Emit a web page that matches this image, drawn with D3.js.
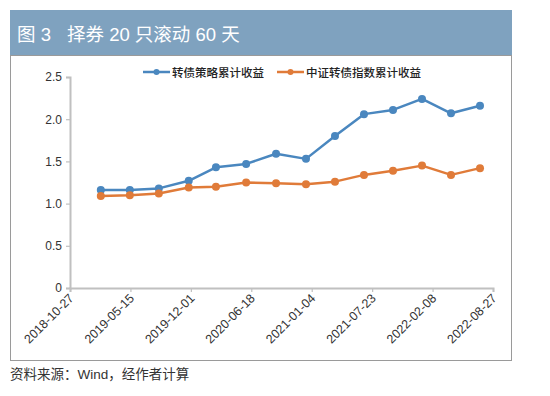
<!DOCTYPE html>
<html>
<head>
<meta charset="utf-8">
<script src="https://cdn.jsdelivr.net/npm/d3@7"></script>
<style>
  body { margin: 0; background: #fff; }
  svg { display: block; font-family: "Liberation Sans", "Noto Sans CJK SC", sans-serif; }
</style>
</head>
<body>
<div id="chart"></div>
<script>
// data
const dates = ['2019-02-06', '2019-05-13', '2019-08-17', '2019-11-24', '2020-02-22', '2020-06-01', '2020-09-08',
    '2020-12-16', '2021-03-22', '2021-06-26', '2021-09-30', '2022-01-04', '2022-04-10', '2022-07-15'];
const strategy = [1.16, 1.16, 1.18, 1.27, 1.43, 1.47, 1.59, 1.53, 1.80, 2.06, 2.11, 2.24, 2.07, 2.16];
const index = [1.09, 1.10, 1.12, 1.19, 1.20, 1.25, 1.24, 1.23, 1.26, 1.34, 1.39, 1.45, 1.34, 1.42];
const seriesNames = ['转债策略累计收益', '中证转债指数累计收益'];
const xTickLabels = ['2018-10-27', '2019-05-15', '2019-12-01', '2020-06-18', '2021-01-04', '2021-07-23', '2022-02-08', '2022-08-27'];
const yTicks = [0, 0.5, 1.0, 1.5, 2.0, 2.5];

const W = 550, H = 396;
const colors = ['#4a87bf', '#e07b39'];
const parse = d3.timeParse('%Y-%m-%d');

const svg = d3.select('#chart').append('svg')
    .attr('width', W)
    .attr('height', H);

// title band
svg.append('rect')
    .attr('x', 10).attr('y', 10)
    .attr('width', 502).attr('height', 45)
    .attr('fill', '#7fa2bf');
svg.append('text')
    .attr('x', 17).attr('y', 41)
    .attr('fill', '#fff')
    .style('font-size', '18.5px')
    .text('图 3');
svg.append('text')
    .attr('x', 67).attr('y', 41)
    .attr('fill', '#fff')
    .style('font-size', '18.5px')
    .text('择券 20 只滚动 60 天');

// chart box
svg.append('rect')
    .attr('x', 10.5).attr('y', 55.5)
    .attr('width', 501).attr('height', 305)
    .attr('fill', '#fff')
    .attr('stroke', '#9a9a9a')
    .attr('stroke-width', 1);

// scales
const x = d3.scaleTime()
    .domain([parse(xTickLabels[0]), parse(xTickLabels[xTickLabels.length - 1])])
    .range([70, 493]);
const y = d3.scaleLinear()
    .domain([0, 2.5])
    .range([288, 77]);

// y axis
const yAxis = svg.append('g')
    .attr('transform', 'translate(70,0)')
    .call(d3.axisLeft(y).tickValues(yTicks).tickSize(4).tickPadding(4)
        .tickFormat(d => d === 0 ? '0' : d3.format('.1f')(d)));
yAxis.select('.domain').attr('stroke', '#c0c0c0').attr('stroke-width', 2);
yAxis.selectAll('.tick line').attr('stroke', '#c0c0c0').attr('stroke-width', 1.2);
yAxis.selectAll('.tick text').attr('fill', '#333').style('font-size', '12px');

// x axis
const xAxis = svg.append('g')
    .attr('transform', 'translate(0,288)')
    .call(d3.axisBottom(x).tickValues(xTickLabels.map(parse)).tickSize(4)
        .tickFormat(d3.timeFormat('%Y-%m-%d')));
xAxis.select('.domain').attr('stroke', '#c0c0c0').attr('stroke-width', 2);
xAxis.selectAll('.tick line').attr('stroke', '#c0c0c0').attr('stroke-width', 1.2);
xAxis.selectAll('.tick text')
    .attr('fill', '#333')
    .style('font-size', '12.5px')
    .attr('text-anchor', 'end')
    .attr('dy', null)
    .attr('y', 0)
    .attr('transform', 'translate(4,11) rotate(-45)');

// lines
const seriesData = [strategy, index];
const line = d3.line()
    .x((d, i) => x(parse(dates[i])))
    .y(d => y(d));

seriesData.forEach((vals, k) => {
    svg.append('path')
        .datum(vals)
        .attr('fill', 'none')
        .attr('stroke', colors[k])
        .attr('stroke-width', 2.5)
        .attr('stroke-linejoin', 'round')
        .attr('d', line);
    svg.append('g')
        .selectAll('circle')
        .data(vals)
        .enter().append('circle')
        .attr('cx', (d, i) => x(parse(dates[i])))
        .attr('cy', d => y(d))
        .attr('r', 4)
        .attr('fill', colors[k]);
});

// legend
const legendX = [143, 277];
seriesNames.forEach((name, k) => {
    const lg = svg.append('g').attr('transform', `translate(${legendX[k]},72)`);
    lg.append('line')
        .attr('x1', 0).attr('x2', 27)
        .attr('stroke', colors[k]).attr('stroke-width', 2.5);
    lg.append('circle')
        .attr('cx', 13.5).attr('r', 3)
        .attr('fill', colors[k]);
    lg.append('text')
        .attr('x', 29).attr('y', 4.5)
        .attr('fill', '#222')
        .style('font-size', '11.5px')
        .style('font-weight', 500)
        .text(name);
});

// source
svg.append('text')
    .attr('x', 10).attr('y', 379)
    .attr('fill', '#333')
    .style('font-size', '13.5px')
    .text('资料来源：Wind，经作者计算');
</script>
</body>
</html>
